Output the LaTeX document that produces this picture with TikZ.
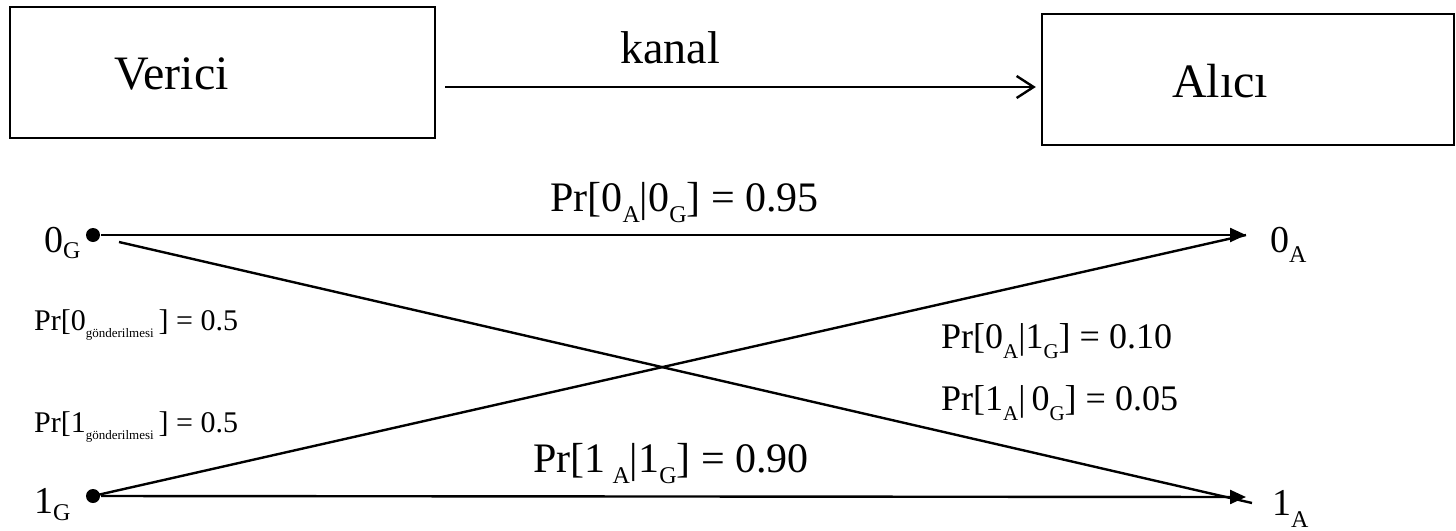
\documentclass[tikz,border=0pt]{standalone}
\usepackage{fontspec}
\setmainfont{Liberation Serif}
\usepackage{graphicx}
\usetikzlibrary{arrows.meta,calc}
\newcommand\mysub[3]{\raisebox{-#2pt}{\fontsize{#1pt}{#1pt}\selectfont #3}}
\begin{document}
\begin{tikzpicture}[x=1pt,y=-1pt,line width=2.4pt,
  box/.style={draw, line width=2.4pt, inner sep=0pt},
  txt/.style={inner sep=0pt, anchor=base west},
  big/.style={txt, font=\fontsize{48pt}{50pt}\selectfont},
  kan/.style={txt, font=\fontsize{46pt}{48pt}\selectfont},
  mid/.style={txt, font=\fontsize{42pt}{44pt}\selectfont},
  rgt/.style={txt, font=\fontsize{36pt}{38pt}\selectfont},
  sml/.style={txt, font=\fontsize{30pt}{32pt}\selectfont},
  lbl/.style={txt, font=\fontsize{38pt}{40pt}\selectfont},
  dot/.style={circle, fill=black, inner sep=0pt, minimum size=14pt},
  chan/.style={-{Straight Barb[length=17pt,width=22pt]}, line width=2.4pt},
  parr/.style={-{Triangle[length=16pt,width=14pt]}, line width=2.4pt},
  pline/.style={line width=2.4pt}]
\useasboundingbox (0,0) rectangle (1456,530);

% boxes
\node[box, minimum width=425pt, minimum height=131pt] (ver) at (222.5,72.5) {};
\node[big] (verT) at (113,89) {Verici};
\node[box, minimum width=412pt, minimum height=131pt] (alc) at (1248,79.5) {};
\node[big] (alcT) at (1171,97) {Alıcı};

% channel
\node[kan] (kanT) at (619,63) {kanal};
\coordinate (chS) at (445,87);
\draw[chan, shorten >=5pt] (chS) -- (alc.west |- chS);

% source / sink points
\node[dot] (g0) at (93,235) {};
\node[dot] (g1) at (93,496) {};
\coordinate (a0) at (1246,235);
\coordinate (a1) at (1246,497);

\node[lbl] (g0T) at (43,252) {0\mysub{24}{6}{G}};
\node[lbl] (g1T) at (33,513) {1\mysub{24}{7}{G}};
\node[lbl] (a0T) at (1269,252) {0\mysub{24}{10}{A}};
\node[lbl] (a1T) at (1271,515) {1\mysub{24}{12}{A}};

% transitions
\draw[parr] (g0) -- (a0);
\draw[parr] (g1) -- (a1);
\draw[pline] (g1.center) -- (a0);
\coordinate (xS) at (119,242);
\coordinate (xE) at (1252,503);
\draw[pline] (xS) -- (xE);

% probabilities
\node[mid] (p00) at (549,211) {Pr[0\mysub{24}{11}{A}|0\mysub{24}{11}{G}] = 0.95};
\node[mid] (p11) at (532,472) {Pr[1\,\mysub{24}{11}{A}|1\mysub{24}{11}{G}] = 0.90};
\node[rgt] (p01) at (940,348) {Pr[0\mysub{21}{10}{A}|1\mysub{21}{10}{G}] = 0.10};
\node[rgt] (p10) at (940,410) {Pr[1\mysub{21}{10}{A}|\,0\mysub{21}{10}{G}] = 0.05};
\node[sml] (pr0) at (33,330) {Pr[0\mysub{13}{7}{gönderilmesi}\,] = 0.5};
\node[sml] (pr1) at (33,432) {Pr[1\mysub{13}{7}{gönderilmesi}\,] = 0.5};
\end{tikzpicture}
\end{document}
